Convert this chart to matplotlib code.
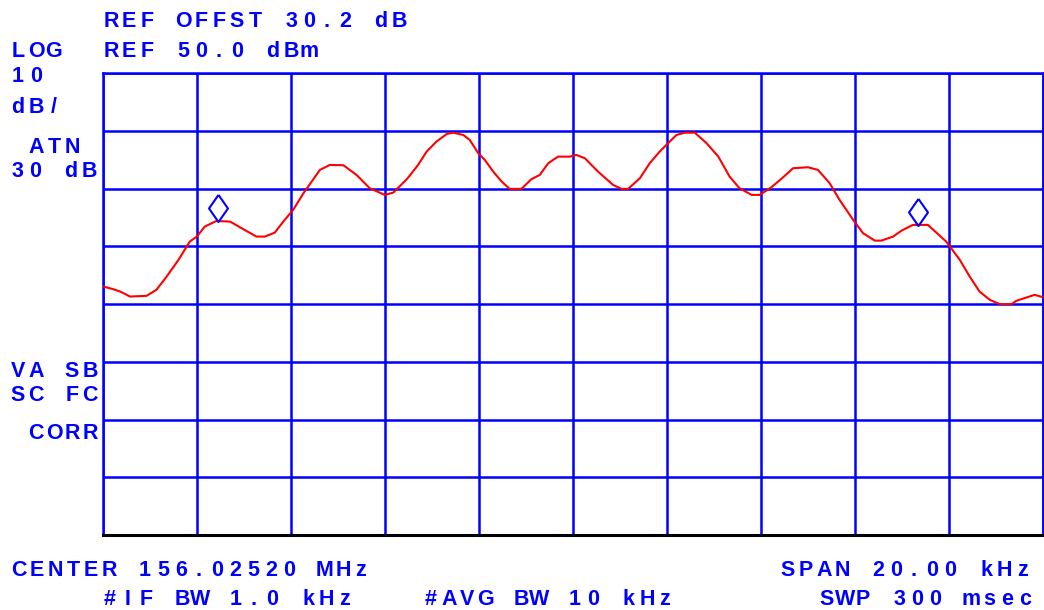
import matplotlib
matplotlib.use("Agg")
import matplotlib.pyplot as plt
from matplotlib.transforms import IdentityTransform, offset_copy

# --- Trace data (frequency offset from center in kHz, level in dBm) ---
freq_khz = [
    -10.00, -9.79, -9.64, -9.43, -9.08, -8.87, -8.66, -8.40, -8.16, -8.01,
    -7.84, -7.59, -7.30, -7.02, -6.74, -6.56, -6.35, -6.17, -5.96, -5.74,
    -5.60, -5.39, -5.18, -4.89, -4.61, -4.33, -4.01, -3.83, -3.54, -3.30,
    -3.12, -2.91, -2.69, -2.55, -2.34, -2.20, -2.02, -1.88, -1.70, -1.52,
    -1.35, -1.10, -0.89, -0.71, -0.53, -0.32, -0.07, 0.07, 0.25, 0.53,
    0.85, 1.03, 1.17, 1.42, 1.63, 1.84, 2.02, 2.20, 2.38, 2.59,
    2.84, 3.09, 3.33, 3.54, 3.80, 3.97, 4.22, 4.47, 4.68, 5.00,
    5.21, 5.46, 5.67, 5.96, 6.17, 6.42, 6.56, 6.81, 6.99, 7.23,
    7.55, 7.94, 8.23, 8.44, 8.65, 8.87, 9.08, 9.33, 9.43, 9.82, 10.00,
]
level_dbm = [
    13.05, 12.60, 12.18, 11.32, 11.44, 12.48, 14.68, 17.67, 20.84, 21.71,
    23.44, 24.42, 24.30, 22.99, 21.71, 21.71, 22.40, 24.30, 26.33, 29.22,
    30.83, 33.26, 34.12, 34.07, 32.39, 30.09, 28.93, 29.32, 31.65, 34.12,
    36.42, 38.16, 39.49, 39.71, 39.32, 38.45, 36.15, 34.99, 32.96, 31.23,
    29.97, 29.97, 31.65, 32.39, 34.42, 35.56, 35.56, 35.85, 35.28, 32.96,
    30.66, 29.97, 29.97, 31.82, 34.42, 36.42, 37.88, 39.32, 39.71, 39.71,
    37.88, 35.56, 32.10, 30.09, 28.93, 28.93, 30.26, 31.99, 33.55, 33.72,
    33.26, 30.95, 28.06, 24.60, 22.29, 21.01, 21.01, 21.71, 22.74, 23.73,
    23.73, 20.84, 17.67, 14.78, 12.18, 10.74, 10.00, 10.00, 10.57, 11.61, 11.21,
]

# markers sit on the trace
marker_freq = [-7.56, 7.35]
marker_level = [24.4, 23.73]

ref_level = 50.0
db_per_div = 10
span_khz = 20.0

BLUE = "#0000ff"
RED = "#ff0000"

W, H = 1044, 610
fig = plt.figure(figsize=(W / 100, H / 100), dpi=100)
ax = fig.add_axes([103.3 / W, 1 - 535 / H, (1043 - 103.3) / W, (535 - 73.3) / H])

ax.plot(freq_khz, level_dbm, color=RED, lw=1.5, zorder=3)

diamond = [(0, 1), (0.7, 0), (0, -1), (-0.7, 0), (0, 1)]
mtrans = offset_copy(ax.transData, fig=fig, x=0, y=13.3, units="dots")
ax.plot(marker_freq, marker_level, linestyle="none", marker=diamond, ms=19.5,
        mfc="none", mec=BLUE, mew=1.5, transform=mtrans, zorder=4)

# --- screen graticule ---
ax.set_xlim(-span_khz / 2, span_khz / 2)
ax.set_ylim(ref_level - 8 * db_per_div, ref_level)
ax.set_xticks([-span_khz / 2 + i * span_khz / 10 for i in range(11)])
ax.set_yticks([ref_level - i * db_per_div for i in range(9)])
ax.grid(True, color=BLUE, lw=1.8)
ax.tick_params(length=0, labelleft=False, labelbottom=False)
for side in ["top", "left", "right"]:
    ax.spines[side].set_color(BLUE)
    ax.spines[side].set_linewidth(1.8)
ax.spines["bottom"].set_color("black")
ax.spines["bottom"].set_linewidth(2.2)

# --- annotation text, fixed character pitch like the instrument screen ---
PITCH = 18
FONT = dict(family="Liberation Sans", weight="bold", size=15.5, color=BLUE)


def screen_text(x, y, s):
    # x = left edge of first glyph, y = baseline, both in pixels from top-left
    for i, ch in enumerate(s):
        if ch == " ":
            continue
        fig.text(x - 2 + i * PITCH + PITCH / 2, H - y, ch, ha="center",
                 va="baseline", transform=IdentityTransform(), **FONT)


screen_text(104, 27, "REF OFFST 30.2 dB")
screen_text(104, 57, "REF 50.0 dBm")
screen_text(11, 57, "LOG")
screen_text(11, 82, "10")
screen_text(11, 113, "dB/")
screen_text(11, 153, " ATN")
screen_text(10, 177, "30 dB")
screen_text(11, 377, "VA SB")
screen_text(11, 401, "SC FC")
screen_text(11, 439, " CORR")
screen_text(12, 576, "CENTER 156.02520 MHz")
screen_text(781, 576, "SPAN 20.00 kHz")
screen_text(103, 605, "#IF BW 1.0 kHz")
screen_text(424, 605, "#AVG BW 10 kHz")
screen_text(820, 605, "SWP 300 msec")

fig.savefig("out.png", dpi=100)
plt.close(fig)
